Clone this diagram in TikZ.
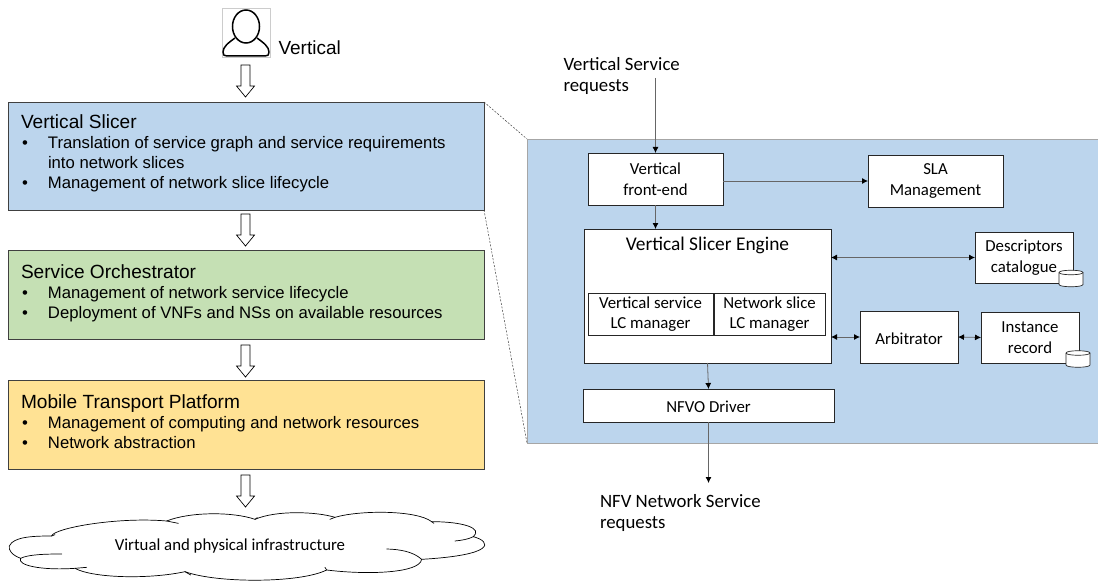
\documentclass[tikz,border=0pt]{standalone}
\usepackage{fontspec}
\setmainfont{Liberation Sans}
\newfontfamily\carl{Carlito}
\usetikzlibrary{arrows.meta,calc}
\newcommand{\titl}[1]{{\fontsize{19.1}{20}\selectfont #1}}
\newcommand{\bul}[1]{\makebox[27pt][l]{\hspace{1pt}\textbullet}#1}
\newcommand{\contline}[1]{\hspace*{27pt}#1}
\tikzset{
  every node/.style={inner sep=0pt,outer sep=0pt},
  layer/.style={draw=black!75,line width=0.9pt},
  txt/.style={anchor=north west,align=left,font=\fontsize{16.7}{20}\selectfont},
  cbox/.style={draw=black!85,fill=white,line width=0.9pt,align=center,font=\carl\fontsize{16.8}{20.5}\selectfont,execute at begin node={\rule{0pt}{14.5pt}}},
  ctext/.style={align=left,font=\carl\fontsize{18.8}{20.8}\selectfont},
  conn/.style={draw=black!60,line width=0.8pt,-{Latex[black,length=6pt,width=6pt]}},
  biconn/.style={draw=black!60,line width=0.8pt,{Latex[black,length=6pt,width=6pt]}-{Latex[black,length=6pt,width=6pt]}},
  zoomline/.style={draw=black!75,line width=0.5pt,dash pattern=on 2pt off 1.5pt},
  cloudline/.style={draw=black,line width=0.7pt,line cap=round,line join=round},
}
\newcommand{\blockarrow}[2]{%
  \draw[black,line width=0.7pt,fill=white] (#1-4.5,#2) -- (#1+4.5,#2) -- (#1+4.5,#2+21) -- (#1+9,#2+21)
    -- (#1,#2+32) -- (#1-9,#2+21) -- (#1-4.5,#2+21) -- cycle;}
\newcommand{\drum}[2]{%
  \draw[black!85,fill=white,line width=0.7pt] (#1-12,#2-6) -- (#1-12,#2+6)
    .. controls (#1-12,#2+9) and (#1+12,#2+9) .. (#1+12,#2+6) -- (#1+12,#2-6)
    .. controls (#1+12,#2-9) and (#1-12,#2-9) .. (#1-12,#2-6) -- cycle;
  \draw[black!85,line width=0.7pt] (#1-12,#2-6) .. controls (#1-12,#2-3) and (#1+12,#2-3) .. (#1+12,#2-6);}
\begin{document}
\begin{tikzpicture}[x=1pt,y=-1pt]
\useasboundingbox (0,0) rectangle (1098,583);
% user
\draw[black!20,line width=0.5pt] (222,8) rectangle (270,57);
\draw[black,line width=1.5pt] (246,26.5) ellipse [x radius=13.5pt,y radius=16.5pt];
\draw[black,line width=1.5pt,line join=round] (235,38) .. controls (228,43) and (223,47) .. (223,52)
  .. controls (223,55) and (224,56) .. (227,56) -- (265,56)
  .. controls (268,56) and (269,55) .. (269,52) .. controls (269,47) and (264,43) .. (257,38);
\node[anchor=base west,font=\fontsize{19}{20}\selectfont] (vert) at (278.5,54.5) {Vertical};
% left stack
\node[layer,fill={rgb,255:red,188;green,213;blue,237},minimum width=476pt,minimum height=108pt] (vs) at (246,156) {};
\node[layer,fill={rgb,255:red,197;green,224;blue,180},minimum width=476pt,minimum height=89pt] (so) at (246,294.5) {};
\node[layer,fill={rgb,255:red,255;green,226;blue,148},minimum width=476pt,minimum height=89pt] (mtp) at (246,424.5) {};
\node[txt] (vst) at (21,115) {\titl{Vertical Slicer}\\\bul{Translation of service graph and service requirements}\\\contline{into network slices}\\\bul{Management of network slice lifecycle}};
\node[txt] (sot) at (21,264.5) {\titl{Service Orchestrator}\\\bul{Management of network service lifecycle}\\\bul{Deployment of VNFs and NSs on available resources}};
\node[txt] (mtpt) at (21,394.5) {\titl{Mobile Transport Platform}\\\bul{Management of computing and network resources}\\\bul{Network abstraction}};
\blockarrow{245.5}{65}
\blockarrow{245.5}{214}
\blockarrow{245.5}{345}
\blockarrow{245.5}{475}
% cloud
\begin{scope}[shift={(0,460)},x=0.3333pt,y=-0.3333pt]
\draw[cloudline,fill=white] (28,258) .. controls (40,230) and (100,228) .. (155,228)
 .. controls (160,205) and (350,170) .. (500,183)
 .. controls (570,155) and (700,155) .. (765,178)
 .. controls (830,150) and (950,155) .. (1005,172)
 .. controls (1080,150) and (1250,150) .. (1295,185)
 .. controls (1390,185) and (1450,205) .. (1420,230)
 .. controls (1475,245) and (1490,285) .. (1265,298)
 .. controls (1260,340) and (1100,345) .. (980,330)
 .. controls (900,370) and (650,370) .. (555,335)
 .. controls (450,358) and (280,355) .. (225,325)
 .. controls (120,332) and (50,315) .. (62,295)
 .. controls (35,285) and (25,270) .. (28,258) -- cycle;
\draw[cloudline] (500,183) -- (535,190);
\draw[cloudline] (765,178) -- (772,173);
\draw[cloudline] (1005,172) -- (990,178);
\draw[cloudline] (1295,185) -- (1302,190);
\draw[cloudline] (1420,230) .. controls (1405,238) and (1385,241) .. (1365,243);
\draw[cloudline] (1265,298) .. controls (1240,275) and (1200,268) .. (1160,267);
\draw[cloudline] (980,330) -- (975,322);
\draw[cloudline] (555,335) -- (572,345);
\draw[cloudline] (225,325) -- (260,322);
\draw[cloudline] (62,295) .. controls (85,283) and (140,282) .. (185,282);
\draw[cloudline] (155,228) -- (165,224);
\end{scope}
\node[font=\carl\fontsize{16.8}{18}\selectfont] (cloud) at (230,546.5) {Virtual and physical infrastructure};
% panel
\node[draw=black!35,line width=0.8pt,fill={rgb,255:red,188;green,213;blue,237},minimum width=572pt,minimum height=304pt] (panel) at (813,291) {};
\draw[zoomline] (vs.north east) -- (panel.north west);
\draw[zoomline] (vs.south east) -- (panel.south west);
% boxes
\node[cbox,minimum width=135pt,minimum height=52pt] (fe) at (655.5,179) {Vertical\\front-end};
\node[cbox,minimum width=135pt,minimum height=52pt] (sla) at (935.5,181) {SLA\\Management};
\node[cbox,minimum width=247pt,minimum height=134pt] (eng) at (707.5,296) {};
\node[font=\carl\fontsize{19.4}{20}\selectfont] (engt) at (707.5,245) {Vertical Slicer Engine};
\node[cbox,minimum width=125pt,minimum height=42pt] (vslc) at (650.5,314) {Vertical service\\LC manager};
\node[cbox,minimum width=111pt,minimum height=42pt] (nslc) at (769.5,314) {Network slice\\LC manager};
\node[cbox,minimum width=251pt,minimum height=33pt] (nfvo) at (708.5,405.5) {NFVO Driver};
\node[cbox,minimum width=98pt,minimum height=51pt] (desc) at (1024,257.5) {Descriptors\\catalogue};
\node[cbox,minimum width=98pt,minimum height=52pt] (arb) at (909,337) {Arbitrator};
\node[cbox,minimum width=98pt,minimum height=51pt] (inst) at (1030,337.5) {Instance\\record};
\drum{1071}{278.5}
\drum{1078}{359}
% connectors
\node[ctext,anchor=north west] (vsr) at (563.5,57.5) {Vertical Service\\requests};
\node[ctext,anchor=north west] (nfvr) at (600,494.5) {NFV Network Service\\requests};
\coordinate (in) at (655.5,78);
\coordinate (out) at (708.5,483);
\draw[conn] (in) -- (fe.north);
\draw[conn] (fe.south) -- (fe.south |- eng.north);
\draw[conn] (fe.east |- sla.west) -- (sla.west);
\draw[conn] (eng.south) -- (nfvo.north);
\draw[conn] (nfvo.south) -- (out);
\draw[biconn] (eng.east |- desc.west) -- (desc.west);
\draw[biconn] (eng.east |- arb.west) -- (arb.west);
\draw[biconn] (arb.east) -- (inst.west);
\end{tikzpicture}
\end{document}
